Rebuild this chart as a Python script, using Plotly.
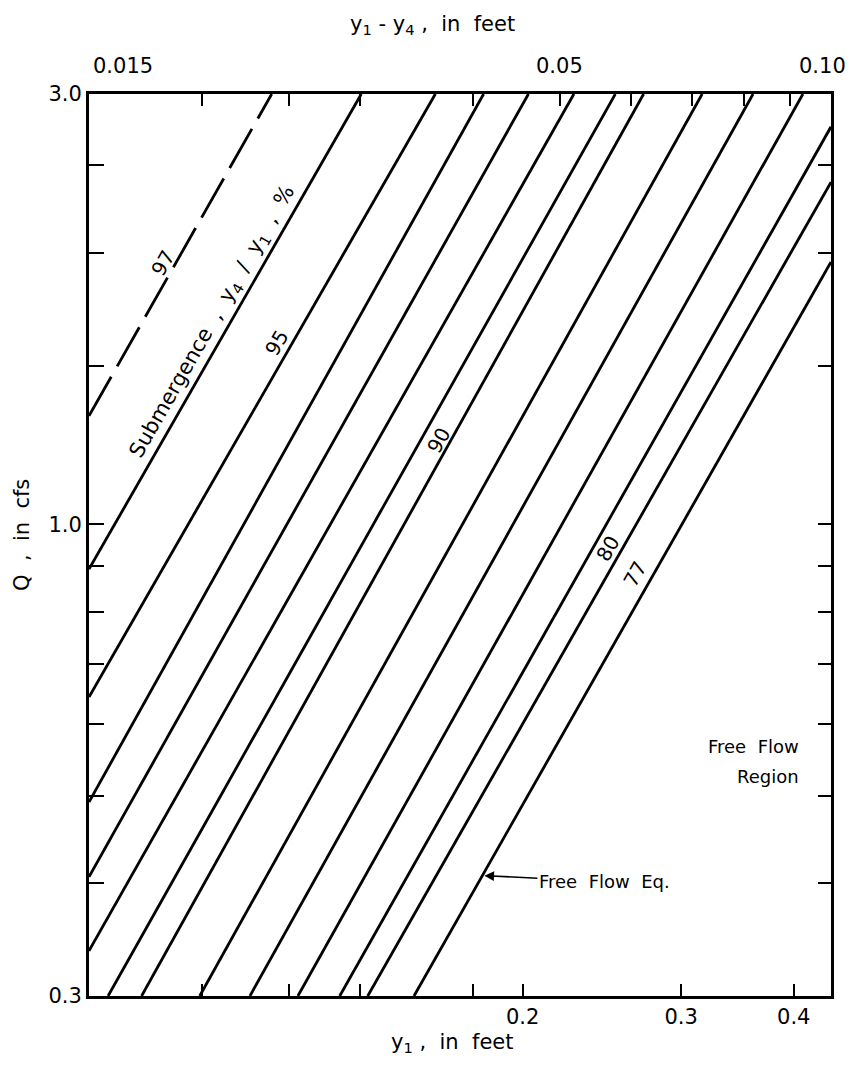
import numpy as np
import plotly.graph_objects as go

# Submergence curves y4/y1 (%), each a straight line on log-log paper
submergence = [97, 96, 95, 94, 93, 92, 91, 90, 88, 86, 84, 82, 80, 77]
# end points of each curve: upstream depth y1 (ft) and discharge Q (cfs)
y1_start = [0.0660, 0.0660, 0.0660, 0.0660, 0.0660, 0.0660, 0.0693,
            0.0755, 0.0876, 0.0996, 0.1126, 0.1253, 0.1346, 0.1515]
q_start = [1.319, 0.892, 0.6435, 0.4922, 0.4066, 0.3366, 0.300,
           0.300, 0.300, 0.300, 0.300, 0.300, 0.300, 0.300]
y1_end = [0.1053, 0.1324, 0.1600, 0.1810, 0.2030, 0.2280, 0.2535,
          0.2725, 0.3165, 0.3605, 0.4095, 0.4400, 0.4400, 0.4400]
q_end = [3.0, 3.0, 3.0, 3.0, 3.0, 3.0, 3.0,
         3.0, 3.0, 3.0, 3.0, 2.759, 2.396, 1.954]

# curve labels: submergence value and the discharge where the label sits
label_pct = [97, 95, 90, 80, 77]
label_q = [1.95, 1.59, 1.24, 0.94, 0.88]
title_q = 1.676            # "Submergence" caption along the 96 % curve
free_flow_arrow_q = 0.408  # arrow to the free-flow equation curve

# axes
y1_range = [0.066, 0.44]
dh_range = [0.015, 0.10]
q_range = [0.3, 3.0]
y1_ticks = [0.2, 0.3, 0.4]
y1_ticktext = ["0.2", "0.3", "0.4"]
y1_minor = [0.088, 0.11, 0.132, 0.176]
dh_ticks = [0.015, 0.02, 0.025, 0.03, 0.04, 0.05, 0.06, 0.07, 0.08, 0.09, 0.10]
dh_labels = ["0.015", "0.05", "0.10"]
dh_label_vals = [0.015, 0.05, 0.10]
q_ticks = [0.3, 1.0, 3.0]
q_ticktext = ["0.3", "1.0", "3.0"]
q_minor = [0.4, 0.5, 0.6, 0.7, 0.8, 0.9, 1.5, 2.0, 2.5]

FONT = "DejaVu Sans"
W, H = 853, 1068
ML, MR, MT, MB = 89, 22, 94, 72
plot_w = W - ML - MR
plot_h = H - MT - MB
px_dec_x = plot_w / np.log10(y1_range[1] / y1_range[0])
px_dec_y = plot_h / np.log10(q_range[1] / q_range[0])

fig = go.Figure()

for i, s in enumerate(submergence):
    fig.add_trace(go.Scatter(
        x=[y1_start[i], y1_end[i]], y=[q_start[i], q_end[i]],
        mode="lines", name=f"{s} %",
        line=dict(color="black", width=2.8,
                  dash="45px,12px" if s == 97 else "solid"),
        hoverinfo="skip"))

# keeps the secondary (top/right) axes drawn
fig.add_trace(go.Scatter(x=[0.03], y=[1.0], xaxis="x2", yaxis="y2",
                         mode="markers", marker=dict(opacity=0),
                         hoverinfo="skip", showlegend=False))


def log_y1_on_curve(i, q):
    lx0, lx1 = np.log10(y1_start[i]), np.log10(y1_end[i])
    lq0, lq1 = np.log10(q_start[i]), np.log10(q_end[i])
    t = (np.log10(q) - lq0) / (lq1 - lq0)
    return lx0 + t * (lx1 - lx0)


def curve_angle(i):
    dx = (np.log10(y1_end[i]) - np.log10(y1_start[i])) * px_dec_x
    dy = (np.log10(q_end[i]) - np.log10(q_start[i])) * px_dec_y
    return -np.degrees(np.arctan2(dy, dx))


annotations = []
label_shift = {97: -13, 95: -16, 90: -12, 80: -15, 77: -18}
for pct, q in zip(label_pct, label_q):
    i = submergence.index(pct)
    annotations.append(dict(
        x=log_y1_on_curve(i, q), y=np.log10(q), xref="x", yref="y",
        text=str(pct), showarrow=False, textangle=curve_angle(i),
        xshift=label_shift[pct], font=dict(family=FONT, size=20),
        xanchor="center", yanchor="middle"))

i96 = submergence.index(96)
annotations.append(dict(
    x=log_y1_on_curve(i96, title_q), y=np.log10(title_q), xref="x", yref="y",
    text="Submergence  ,  y<sub>4</sub>  /  y<sub>1</sub>  ,  %", showarrow=False,
    textangle=curve_angle(i96), xshift=-18,
    font=dict(family=FONT, size=21), xanchor="center", yanchor="middle"))

# free-flow equation caption with its pointer to the 77 % curve
i77 = submergence.index(77)
annotations.append(dict(
    x=log_y1_on_curve(i77, free_flow_arrow_q), y=np.log10(free_flow_arrow_q),
    xref="x", yref="y", text="Free  Flow  Eq.", showarrow=True,
    ax=122, ay=6, arrowhead=2, arrowsize=1.2, arrowwidth=1.6,
    arrowcolor="black", standoff=2, font=dict(family=FONT, size=18)))

# free-flow region caption, right aligned
for txt, py in (("Free  Flow", 747), ("Region", 776)):
    annotations.append(dict(
        x=(801 - ML) / plot_w, y=((H - MB) - py) / plot_h,
        xref="paper", yref="paper", text=txt, showarrow=False,
        xanchor="right", yanchor="middle", font=dict(family=FONT, size=18)))

# top scale labels
dh_shift = {0.015: 34, 0.05: 0, 0.10: -9}
for v, t in zip(dh_label_vals, dh_labels):
    annotations.append(dict(
        x=np.log10(v), y=1, xref="x2", yref="paper", text=t,
        showarrow=False, xanchor="center", yanchor="middle",
        xshift=dh_shift[v], yshift=28, font=dict(family=FONT, size=21)))

# axis titles
annotations.append(dict(
    x=(432 - ML) / plot_w, y=1 + (MT - 25) / plot_h, xref="paper", yref="paper",
    text="y<sub>1</sub> - y<sub>4</sub> ,  in  feet", showarrow=False,
    xanchor="center", yanchor="middle", font=dict(family=FONT, size=21)))
annotations.append(dict(
    x=(452 - ML) / plot_w, y=-(1043 - (H - MB)) / plot_h, xref="paper", yref="paper",
    text="y<sub>1</sub> ,  in  feet", showarrow=False,
    xanchor="center", yanchor="middle", font=dict(family=FONT, size=21)))
annotations.append(dict(
    x=-(ML - 22) / plot_w, y=((H - MB) - 535) / plot_h, xref="paper", yref="paper",
    text="Q  ,  in  cfs", showarrow=False, textangle=-90,
    xanchor="center", yanchor="middle", font=dict(family=FONT, size=21)))

axis_common = dict(showgrid=False, zeroline=False, showline=True,
                   linecolor="black", linewidth=3, ticks="inside",
                   tickcolor="black", tickwidth=2)

fig.update_layout(
    width=W, height=H,
    margin=dict(l=ML, r=MR, t=MT, b=MB),
    plot_bgcolor="white", paper_bgcolor="white",
    showlegend=False,
    font=dict(family=FONT, size=21, color="black"),
    xaxis=dict(type="log", range=[np.log10(y1_range[0]), np.log10(y1_range[1])],
               tickmode="array", tickvals=y1_ticks, ticktext=y1_ticktext,
               ticklen=12, tickfont=dict(family=FONT, size=21),
               minor=dict(tickmode="array", tickvals=y1_minor, ticks="inside",
                          ticklen=12, tickwidth=2, tickcolor="black", showgrid=False),
               **axis_common),
    xaxis2=dict(type="log", overlaying="x", side="top",
                range=[np.log10(dh_range[0]), np.log10(dh_range[1])],
                tickmode="array", tickvals=dh_ticks, showticklabels=False,
                ticklen=12, **axis_common),
    yaxis=dict(type="log", range=[np.log10(q_range[0]), np.log10(q_range[1])],
               tickmode="array", tickvals=q_ticks, ticktext=q_ticktext,
               ticklen=15, tickfont=dict(family=FONT, size=21),
               minor=dict(tickmode="array", tickvals=q_minor, ticks="inside",
                          ticklen=15, tickwidth=2, tickcolor="black", showgrid=False),
               **axis_common),
    yaxis2=dict(type="log", overlaying="y", side="right",
                range=[np.log10(q_range[0]), np.log10(q_range[1])],
                tickmode="array", tickvals=q_ticks + q_minor, showticklabels=False,
                ticklen=13, **axis_common),
    annotations=annotations,
)

fig.write_html("out.html")
